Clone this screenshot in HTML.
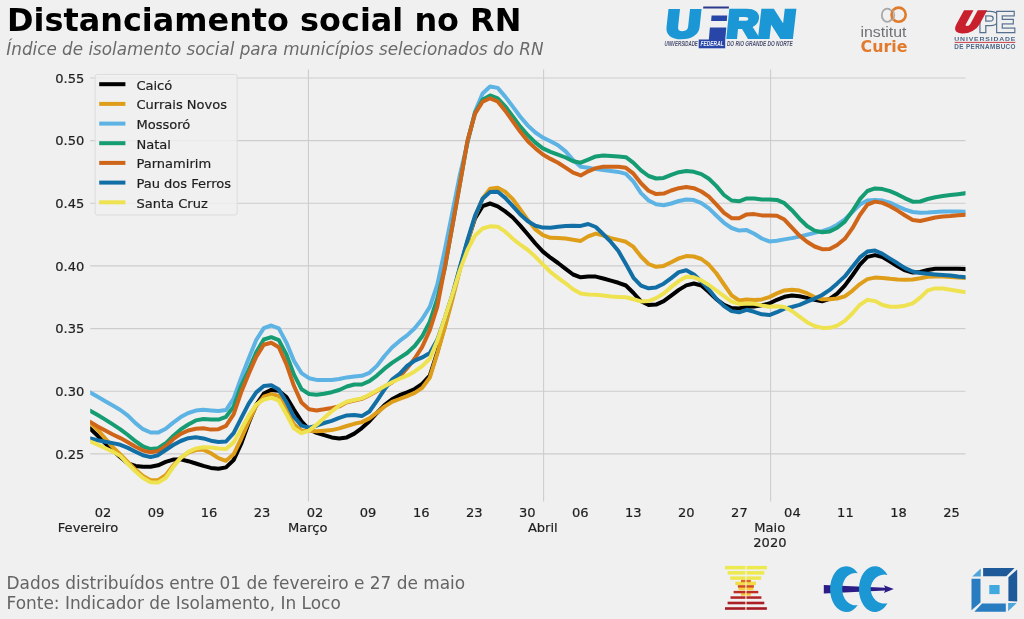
<!DOCTYPE html>
<html lang="pt-BR"><head><meta charset="utf-8"><title>Distanciamento social no RN</title>
<style>
html,body{margin:0;padding:0;background:#f0f0f0;}
body{width:1024px;height:619px;overflow:hidden;}
svg{display:block;font-family:"DejaVu Sans","Liberation Sans",sans-serif;}
.tick{font-size:13.05px;fill:#1e1e1e;stroke:#1e1e1e;stroke-width:0.2px;}
.leg{font-size:13.05px;fill:#1e1e1e;stroke:#1e1e1e;stroke-width:0.2px;}
</style></head><body>
<svg width="1024" height="619" viewBox="0 0 1024 619">
<rect width="1024" height="619" fill="#f0f0f0"/>
<text x="7.1" y="31.3" font-size="31.9" font-weight="bold" fill="#000">Distanciamento social no RN</text>
<text x="6.3" y="55" font-size="16.8" font-style="italic" fill="#6a6a6a">Índice de isolamento social para municípios selecionados do RN</text>
<g stroke="#cdcdcd" stroke-width="1.1" fill="none">
<path d="M90.2 77.95 H965.5"/><path d="M90.2 140.6 H965.5"/><path d="M90.2 203.3 H965.5"/><path d="M90.2 265.9 H965.5"/><path d="M90.2 328.6 H965.5"/><path d="M90.2 391.25 H965.5"/><path d="M90.2 453.9 H965.5"/><path d="M308.45 69.5 V501.5"/><path d="M543.6 69.5 V501.5"/><path d="M770.6 69.5 V501.5"/>
</g>
<g class="tick" text-anchor="end"><text x="84.3" y="82.7">0.55</text><text x="84.3" y="145.3">0.50</text><text x="84.3" y="208.0">0.45</text><text x="84.3" y="270.6">0.40</text><text x="84.3" y="333.3">0.35</text><text x="84.3" y="395.9">0.30</text><text x="84.3" y="458.6">0.25</text></g>
<g class="tick" text-anchor="middle"><text x="103.0" y="517.3">02</text><text x="156.0" y="517.3">09</text><text x="209.1" y="517.3">16</text><text x="262.1" y="517.3">23</text><text x="315.1" y="517.3">02</text><text x="368.1" y="517.3">09</text><text x="421.2" y="517.3">16</text><text x="474.2" y="517.3">23</text><text x="527.2" y="517.3">30</text><text x="580.3" y="517.3">06</text><text x="633.3" y="517.3">13</text><text x="686.3" y="517.3">20</text><text x="739.4" y="517.3">27</text><text x="792.4" y="517.3">04</text><text x="845.4" y="517.3">11</text><text x="898.5" y="517.3">18</text><text x="951.5" y="517.3">25</text><text x="88" y="532.4">Fevereiro</text><text x="307.65" y="532.4">Março</text><text x="542.8000000000001" y="532.4">Abril</text><text x="769.8000000000001" y="532.4">Maio</text><text x="769.9" y="547.4">2020</text></g>
<clipPath id="ax"><rect x="90.2" y="69.5" width="875.3" height="432"/></clipPath>
<g fill="none" stroke-width="4" stroke-linejoin="round" stroke-linecap="square" clip-path="url(#ax)">
<path stroke="#000000" d="M90.2 428.8 L97.7 435.8 L105.3 443.3 L112.8 450.6 L120.4 457.3 L127.9 463.5 L135.5 466.0 L143.0 466.8 L150.6 466.8 L158.1 465.3 L165.7 461.9 L173.2 459.6 L180.7 459.4 L188.3 461.2 L195.8 463.5 L203.4 465.9 L210.9 467.9 L218.5 468.8 L226.0 467.4 L233.6 460.1 L241.1 444.0 L248.7 423.0 L256.2 404.8 L263.8 393.6 L271.3 389.9 L278.8 390.7 L286.4 397.0 L293.9 409.6 L301.5 421.4 L309.0 429.3 L316.6 432.9 L324.1 435.1 L331.7 437.4 L339.2 438.5 L346.8 437.4 L354.3 433.6 L361.8 428.1 L369.4 421.2 L376.9 413.0 L384.5 405.1 L392.0 399.3 L399.6 395.2 L407.1 392.3 L414.7 389.0 L422.2 383.9 L429.8 375.5 L437.3 352.3 L444.8 325.7 L452.4 296.6 L459.9 268.4 L467.5 241.6 L475.0 218.4 L482.6 206.1 L490.1 203.5 L497.7 206.3 L505.2 211.4 L512.8 217.5 L520.3 225.6 L527.9 234.5 L535.4 243.5 L542.9 251.6 L550.5 257.7 L558.0 263.0 L565.6 268.8 L573.1 274.5 L580.7 277.3 L588.2 276.4 L595.8 276.6 L603.3 278.5 L610.9 280.7 L618.4 282.8 L625.9 285.5 L633.5 293.0 L641.0 301.3 L648.6 304.9 L656.1 304.6 L663.7 301.2 L671.2 295.7 L678.8 289.9 L686.3 285.4 L693.9 283.5 L701.4 285.5 L708.9 292.1 L716.5 299.4 L724.0 304.8 L731.6 308.0 L739.1 308.4 L746.7 306.8 L754.2 306.5 L761.8 305.3 L769.3 303.5 L776.9 299.8 L784.4 296.8 L791.9 295.5 L799.5 296.2 L807.0 297.9 L814.6 299.9 L822.1 301.3 L829.7 298.9 L837.2 293.6 L844.8 285.6 L852.3 275.5 L859.9 264.7 L867.4 256.9 L875.0 255.1 L882.5 257.0 L890.0 261.5 L897.6 266.3 L905.1 270.4 L912.7 272.5 L920.2 271.9 L927.8 270.0 L935.3 268.8 L942.9 268.7 L950.4 268.7 L958.0 268.7 L965.5 269.1"/>
<path stroke="#de9e1a" d="M90.2 422.9 L97.7 429.8 L105.3 438.6 L112.8 447.1 L120.4 454.5 L127.9 462.1 L135.5 469.6 L143.0 476.0 L150.6 480.3 L158.1 480.2 L165.7 475.1 L173.2 465.4 L180.7 457.8 L188.3 452.6 L195.8 450.0 L203.4 449.6 L210.9 453.3 L218.5 458.1 L226.0 460.8 L233.6 454.3 L241.1 439.0 L248.7 421.4 L256.2 405.9 L263.8 396.7 L271.3 394.1 L278.8 396.0 L286.4 410.1 L293.9 424.2 L301.5 430.7 L309.0 430.8 L316.6 431.3 L324.1 430.7 L331.7 430.1 L339.2 428.4 L346.8 426.0 L354.3 423.8 L361.8 422.1 L369.4 418.4 L376.9 412.7 L384.5 406.6 L392.0 401.9 L399.6 399.0 L407.1 396.1 L414.7 392.9 L422.2 387.9 L429.8 377.6 L437.3 353.5 L444.8 327.4 L452.4 299.5 L459.9 269.8 L467.5 242.8 L475.0 216.8 L482.6 198.4 L490.1 188.7 L497.7 187.7 L505.2 191.8 L512.8 199.1 L520.3 209.5 L527.9 220.1 L535.4 229.4 L542.9 235.2 L550.5 237.8 L558.0 238.1 L565.6 238.6 L573.1 239.7 L580.7 240.9 L588.2 236.4 L595.8 233.6 L603.3 235.5 L610.9 238.1 L618.4 239.9 L625.9 241.8 L633.5 246.9 L641.0 256.5 L648.6 264.0 L656.1 266.8 L663.7 265.9 L671.2 262.3 L678.8 258.4 L686.3 256.1 L693.9 256.5 L701.4 259.0 L708.9 264.7 L716.5 273.5 L724.0 284.5 L731.6 295.3 L739.1 300.5 L746.7 299.6 L754.2 300.0 L761.8 299.4 L769.3 297.1 L776.9 293.4 L784.4 290.4 L791.9 289.7 L799.5 290.6 L807.0 293.2 L814.6 297.1 L822.1 299.2 L829.7 299.2 L837.2 298.5 L844.8 296.4 L852.3 290.8 L859.9 284.1 L867.4 279.1 L875.0 277.6 L882.5 277.9 L890.0 278.8 L897.6 279.5 L905.1 279.8 L912.7 279.5 L920.2 278.3 L927.8 276.8 L935.3 276.5 L942.9 276.6 L950.4 276.9 L958.0 277.5 L965.5 277.9"/>
<path stroke="#5db3e3" d="M90.2 392.6 L97.7 396.8 L105.3 401.2 L112.8 405.5 L120.4 410.0 L127.9 415.6 L135.5 423.1 L143.0 429.2 L150.6 432.5 L158.1 432.6 L165.7 428.8 L173.2 422.6 L180.7 417.1 L188.3 413.0 L195.8 410.6 L203.4 409.8 L210.9 410.4 L218.5 411.1 L226.0 410.0 L233.6 398.7 L241.1 377.9 L248.7 358.6 L256.2 340.0 L263.8 328.2 L271.3 325.5 L278.8 328.4 L286.4 342.6 L293.9 360.7 L301.5 373.1 L309.0 378.2 L316.6 379.9 L324.1 380.1 L331.7 380.0 L339.2 379.0 L346.8 377.4 L354.3 376.6 L361.8 375.8 L369.4 372.8 L376.9 365.9 L384.5 356.0 L392.0 347.5 L399.6 340.9 L407.1 335.4 L414.7 328.2 L422.2 319.0 L429.8 306.9 L437.3 284.6 L444.8 250.0 L452.4 212.1 L459.9 174.6 L467.5 142.9 L475.0 111.8 L482.6 93.5 L490.1 86.5 L497.7 87.9 L505.2 96.6 L512.8 106.6 L520.3 116.8 L527.9 125.6 L535.4 132.5 L542.9 137.6 L550.5 141.2 L558.0 145.2 L565.6 151.4 L573.1 160.1 L580.7 166.8 L588.2 167.7 L595.8 169.1 L603.3 170.1 L610.9 170.9 L618.4 171.9 L625.9 173.9 L633.5 181.7 L641.0 193.1 L648.6 200.5 L656.1 204.3 L663.7 205.3 L671.2 203.5 L678.8 201.0 L686.3 199.5 L693.9 200.1 L701.4 203.2 L708.9 208.4 L716.5 215.7 L724.0 222.8 L731.6 228.0 L739.1 230.6 L746.7 230.1 L754.2 233.7 L761.8 238.5 L769.3 241.4 L776.9 240.7 L784.4 239.4 L791.9 238.1 L799.5 236.6 L807.0 234.8 L814.6 232.9 L822.1 231.1 L829.7 228.7 L837.2 224.7 L844.8 219.5 L852.3 212.0 L859.9 204.6 L867.4 200.5 L875.0 200.1 L882.5 200.6 L890.0 202.6 L897.6 206.2 L905.1 209.6 L912.7 212.0 L920.2 212.7 L927.8 212.6 L935.3 212.0 L942.9 211.6 L950.4 211.4 L958.0 211.4 L965.5 211.8"/>
<path stroke="#159c73" d="M90.2 410.8 L97.7 415.1 L105.3 419.6 L112.8 424.4 L120.4 429.4 L127.9 435.0 L135.5 441.2 L143.0 446.5 L150.6 449.1 L158.1 448.2 L165.7 443.3 L173.2 435.9 L180.7 429.4 L188.3 424.5 L195.8 420.4 L203.4 419.0 L210.9 419.5 L218.5 419.6 L226.0 416.8 L233.6 406.6 L241.1 386.0 L248.7 369.8 L256.2 352.3 L263.8 339.5 L271.3 337.2 L278.8 340.1 L286.4 354.5 L293.9 374.4 L301.5 389.1 L309.0 394.0 L316.6 394.8 L324.1 393.7 L331.7 392.2 L339.2 390.0 L346.8 386.5 L354.3 384.5 L361.8 384.5 L369.4 381.2 L376.9 375.6 L384.5 368.7 L392.0 362.9 L399.6 357.9 L407.1 353.0 L414.7 346.0 L422.2 336.3 L429.8 321.6 L437.3 298.7 L444.8 268.3 L452.4 225.8 L459.9 184.0 L467.5 141.0 L475.0 113.1 L482.6 99.7 L490.1 95.4 L497.7 98.4 L505.2 106.3 L512.8 116.4 L520.3 126.6 L527.9 135.3 L535.4 142.6 L542.9 148.4 L550.5 151.8 L558.0 154.6 L565.6 157.5 L573.1 161.2 L580.7 162.7 L588.2 159.6 L595.8 156.4 L603.3 155.4 L610.9 156.0 L618.4 156.6 L625.9 157.2 L633.5 162.9 L641.0 170.4 L648.6 176.0 L656.1 178.5 L663.7 177.9 L671.2 174.8 L678.8 172.2 L686.3 171.1 L693.9 171.8 L701.4 174.1 L708.9 178.8 L716.5 186.1 L724.0 195.0 L731.6 200.5 L739.1 201.3 L746.7 198.4 L754.2 198.4 L761.8 199.4 L769.3 199.4 L776.9 199.9 L784.4 203.2 L791.9 210.2 L799.5 218.7 L807.0 226.0 L814.6 230.6 L822.1 232.2 L829.7 231.4 L837.2 227.8 L844.8 221.6 L852.3 211.2 L859.9 199.2 L867.4 191.0 L875.0 188.4 L882.5 189.1 L890.0 191.1 L897.6 194.4 L905.1 198.3 L912.7 201.7 L920.2 201.5 L927.8 199.0 L935.3 197.2 L942.9 196.1 L950.4 195.1 L958.0 194.2 L965.5 193.2"/>
<path stroke="#cf6519" d="M90.2 421.9 L97.7 426.4 L105.3 430.6 L112.8 434.5 L120.4 438.1 L127.9 442.2 L135.5 446.7 L143.0 450.6 L150.6 452.2 L158.1 451.1 L165.7 446.2 L173.2 439.2 L180.7 433.9 L188.3 430.5 L195.8 428.7 L203.4 428.3 L210.9 429.6 L218.5 429.2 L226.0 425.9 L233.6 414.3 L241.1 392.6 L248.7 373.9 L256.2 356.9 L263.8 344.7 L271.3 342.8 L278.8 347.3 L286.4 364.1 L293.9 385.8 L301.5 402.6 L309.0 409.3 L316.6 410.4 L324.1 409.3 L331.7 408.0 L339.2 406.4 L346.8 402.3 L354.3 400.5 L361.8 398.9 L369.4 395.3 L376.9 391.1 L384.5 386.8 L392.0 382.4 L399.6 376.8 L407.1 368.3 L414.7 358.5 L422.2 346.9 L429.8 330.2 L437.3 306.7 L444.8 267.4 L452.4 225.8 L459.9 184.0 L467.5 140.9 L475.0 113.8 L482.6 101.8 L490.1 98.3 L497.7 101.5 L505.2 110.7 L512.8 121.3 L520.3 131.8 L527.9 141.3 L535.4 148.4 L542.9 154.5 L550.5 158.9 L558.0 162.7 L565.6 167.6 L573.1 172.7 L580.7 175.4 L588.2 171.3 L595.8 168.1 L603.3 166.8 L610.9 166.8 L618.4 166.8 L625.9 167.8 L633.5 173.7 L641.0 183.3 L648.6 190.7 L656.1 194.1 L663.7 193.6 L671.2 190.5 L678.8 188.2 L686.3 187.1 L693.9 188.2 L701.4 191.5 L708.9 196.7 L716.5 204.6 L724.0 212.8 L731.6 218.2 L739.1 218.3 L746.7 214.4 L754.2 214.1 L761.8 215.4 L769.3 215.4 L776.9 215.7 L784.4 219.6 L791.9 227.7 L799.5 235.6 L807.0 241.7 L814.6 246.5 L822.1 249.2 L829.7 249.1 L837.2 245.0 L844.8 238.8 L852.3 228.4 L859.9 215.0 L867.4 204.6 L875.0 201.6 L882.5 202.9 L890.0 206.2 L897.6 210.6 L905.1 215.5 L912.7 220.0 L920.2 221.0 L927.8 219.2 L935.3 217.5 L942.9 216.6 L950.4 216.1 L958.0 215.3 L965.5 214.7"/>
<path stroke="#126fa6" d="M90.2 438.5 L97.7 440.3 L105.3 441.8 L112.8 443.1 L120.4 444.8 L127.9 447.9 L135.5 451.7 L143.0 455.3 L150.6 457.1 L158.1 455.2 L165.7 450.0 L173.2 445.0 L180.7 441.0 L188.3 438.2 L195.8 437.2 L203.4 438.4 L210.9 440.7 L218.5 441.9 L226.0 441.5 L233.6 433.1 L241.1 418.3 L248.7 403.7 L256.2 392.4 L263.8 386.0 L271.3 385.2 L278.8 389.6 L286.4 402.0 L293.9 416.8 L301.5 425.6 L309.0 427.6 L316.6 425.7 L324.1 423.0 L331.7 420.8 L339.2 417.9 L346.8 415.4 L354.3 415.1 L361.8 416.1 L369.4 411.5 L376.9 400.9 L384.5 389.4 L392.0 379.7 L399.6 373.9 L407.1 366.0 L414.7 360.6 L422.2 357.4 L429.8 353.1 L437.3 339.8 L444.8 318.4 L452.4 294.6 L459.9 267.1 L467.5 240.1 L475.0 215.9 L482.6 198.8 L490.1 192.1 L497.7 191.8 L505.2 197.9 L512.8 206.1 L520.3 214.5 L527.9 221.3 L535.4 225.7 L542.9 227.6 L550.5 227.8 L558.0 226.8 L565.6 226.0 L573.1 225.8 L580.7 225.9 L588.2 224.0 L595.8 227.0 L603.3 234.3 L610.9 241.9 L618.4 251.1 L625.9 264.1 L633.5 277.8 L641.0 285.6 L648.6 288.3 L656.1 287.4 L663.7 283.7 L671.2 278.1 L678.8 272.1 L686.3 270.2 L693.9 274.4 L701.4 281.5 L708.9 289.6 L716.5 298.9 L724.0 306.1 L731.6 311.1 L739.1 312.3 L746.7 309.8 L754.2 311.8 L761.8 314.3 L769.3 315.1 L776.9 312.2 L784.4 308.6 L791.9 307.0 L799.5 304.8 L807.0 301.6 L814.6 298.6 L822.1 295.0 L829.7 289.9 L837.2 283.4 L844.8 276.4 L852.3 266.9 L859.9 257.4 L867.4 251.6 L875.0 250.5 L882.5 253.9 L890.0 258.6 L897.6 263.3 L905.1 268.2 L912.7 271.5 L920.2 273.1 L927.8 273.8 L935.3 274.4 L942.9 274.9 L950.4 275.6 L958.0 276.6 L965.5 277.3"/>
<path stroke="#efe251" d="M90.2 441.5 L97.7 444.7 L105.3 448.2 L112.8 451.6 L120.4 456.1 L127.9 463.9 L135.5 471.5 L143.0 477.9 L150.6 482.3 L158.1 482.5 L165.7 478.0 L173.2 467.1 L180.7 458.0 L188.3 451.9 L195.8 448.5 L203.4 447.3 L210.9 447.4 L218.5 448.6 L226.0 449.1 L233.6 442.4 L241.1 429.4 L248.7 415.7 L256.2 404.7 L263.8 399.6 L271.3 397.7 L278.8 400.7 L286.4 414.2 L293.9 428.3 L301.5 433.2 L309.0 430.6 L316.6 424.7 L324.1 418.0 L331.7 411.3 L339.2 405.7 L346.8 401.8 L354.3 400.0 L361.8 398.4 L369.4 394.8 L376.9 390.6 L384.5 386.2 L392.0 382.2 L399.6 378.7 L407.1 375.7 L414.7 371.4 L422.2 366.1 L429.8 358.7 L437.3 340.9 L444.8 318.1 L452.4 294.6 L459.9 270.1 L467.5 250.0 L475.0 235.6 L482.6 228.5 L490.1 226.3 L497.7 226.7 L505.2 231.7 L512.8 238.7 L520.3 244.7 L527.9 250.0 L535.4 256.8 L542.9 264.3 L550.5 272.0 L558.0 277.8 L565.6 283.3 L573.1 289.3 L580.7 293.6 L588.2 294.4 L595.8 294.8 L603.3 295.5 L610.9 296.5 L618.4 296.9 L625.9 297.2 L633.5 299.3 L641.0 301.4 L648.6 301.0 L656.1 298.1 L663.7 293.5 L671.2 286.9 L678.8 281.1 L686.3 276.7 L693.9 277.3 L701.4 280.4 L708.9 285.0 L716.5 290.5 L724.0 296.2 L731.6 301.6 L739.1 303.9 L746.7 303.4 L754.2 303.8 L761.8 305.4 L769.3 306.8 L776.9 306.3 L784.4 307.0 L791.9 311.0 L799.5 316.6 L807.0 322.2 L814.6 326.0 L822.1 327.9 L829.7 327.8 L837.2 325.6 L844.8 320.9 L852.3 313.5 L859.9 304.8 L867.4 299.8 L875.0 301.1 L882.5 305.0 L890.0 306.8 L897.6 306.8 L905.1 305.7 L912.7 303.3 L920.2 297.6 L927.8 290.4 L935.3 288.4 L942.9 288.6 L950.4 289.7 L958.0 291.0 L965.5 292.2"/>
</g>
<rect x="95.2" y="74.4" width="142" height="140.6" rx="2" fill="#f0f0f0" fill-opacity="0.8" stroke="#dcdcdc" stroke-width="1"/>
<g stroke-width="4" fill="none"><path stroke="#000000" d="M99.2 84.2 H125.4"/><path stroke="#de9e1a" d="M99.2 103.9 H125.4"/><path stroke="#5db3e3" d="M99.2 123.6 H125.4"/><path stroke="#159c73" d="M99.2 143.2 H125.4"/><path stroke="#cf6519" d="M99.2 162.9 H125.4"/><path stroke="#126fa6" d="M99.2 182.6 H125.4"/><path stroke="#efe251" d="M99.2 202.3 H125.4"/></g>
<g class="leg"><text x="136.4" y="89.5">Caicó</text><text x="136.4" y="109.2">Currais Novos</text><text x="136.4" y="128.9">Mossoró</text><text x="136.4" y="148.5">Natal</text><text x="136.4" y="168.2">Parnamirim</text><text x="136.4" y="187.9">Pau dos Ferros</text><text x="136.4" y="207.6">Santa Cruz</text></g>
<g font-size="16.95" fill="#646464"><text x="6.5" y="588.6">Dados distribuídos entre 01 de fevereiro e 27 de maio</text><text x="6.5" y="608.5">Fonte: Indicador de Isolamento, In Loco</text></g>
<!-- UFRN logo -->
<g>
<path fill="#2b3a8c" d="M703.3 6.5 H728.9 V8.5 H703.1 Z"/>
<path fill="#2846a8" d="M711.6 15.5 H727.2 L726.8 21 H711.1 Z"/>
<path fill="#2846a8" d="M709.9 27.6 H726.3 L725.2 40 H708.8 Z"/>
<rect fill="#2846a8" x="698.7" y="39.5" width="26.5" height="8.8"/>
<text transform="translate(664.89 36.92) scale(0.4716 0.3800) skewX(-5)" style="font:bold 100px 'Liberation Sans',sans-serif;stroke:#1c97d5;stroke-width:10px" fill="#1c97d5">U</text>
<text transform="translate(725.86 37.09) scale(0.4385 0.3823) skewX(-5)" style="font:bold 100px 'Liberation Sans',sans-serif;stroke:#1c97d5;stroke-width:10px" fill="#1c97d5">R</text>
<text transform="translate(757.29 37.09) scale(0.5092 0.3823) skewX(-5)" style="font:bold 100px 'Liberation Sans',sans-serif;stroke:#1c97d5;stroke-width:10px" fill="#1c97d5">N</text>
<text transform="translate(664.54 46.33) scale(0.0441 0.0704)" style="font:italic bold 100px 'Liberation Sans',sans-serif" fill="#4b5070">UNIVERSIDADE</text>
<text transform="translate(700.50 46.40) scale(0.0491 0.0725)" style="font:italic bold 100px 'Liberation Sans',sans-serif" fill="#e8ecf6">FEDERAL</text>
<text transform="translate(726.90 46.33) scale(0.0481 0.0704)" style="font:italic bold 100px 'Liberation Sans',sans-serif" fill="#4b5070">DO RIO GRANDE DO NORTE</text>
</g>
<!-- Institut Curie -->
<g>
<ellipse cx="887.3" cy="15.2" rx="5.5" ry="6.6" fill="none" stroke="#a8a8a8" stroke-width="1.8"/>
<circle cx="898.6" cy="14.7" r="7.1" fill="none" stroke="#e07b2c" stroke-width="2.6"/>
<path d="M892.6 10.2 A5.5 6.6 0 0 1 892.6 20.2" fill="none" stroke="#b0b0b0" stroke-width="1.4"/>
<text transform="translate(860.49 37.16) scale(0.1591 0.1446)" style="font:normal 100px 'Liberation Sans',sans-serif" fill="#6f7276">institut</text>
<text transform="translate(860.61 52.35) scale(0.1580 0.1532)" style="font:bold 100px 'DejaVu Sans','Liberation Sans',sans-serif" fill="#e27a2e">Curie</text>
</g>
<!-- UPE -->
<g>
<text transform="translate(978.56 32.39) scale(0.3141 0.3026)" style="font:bold 100px 'Liberation Sans',sans-serif;stroke:#56708f;stroke-width:8px;paint-order:stroke" fill="#f0f0f0">P</text>
<text transform="translate(995.30 32.39) scale(0.3016 0.3026)" style="font:bold 100px 'Liberation Sans',sans-serif;stroke:#56708f;stroke-width:8px;paint-order:stroke" fill="#f0f0f0">E</text>
<text transform="translate(953.40 30.98) scale(0.3000 0.2686) skewX(-26)" style="font:bold 100px 'Liberation Sans',sans-serif;stroke:#c8202c;stroke-width:17px;stroke-linejoin:miter" fill="#c8202c">U</text>
<text transform="translate(954.29 40.84) scale(0.0690 0.0606)" style="font:bold 100px 'Liberation Sans',sans-serif;letter-spacing:12px" fill="#4d6888">UNIVERSIDADE</text>
<text transform="translate(954.26 49.43) scale(0.0635 0.0662)" style="font:bold 100px 'Liberation Sans',sans-serif;letter-spacing:6px" fill="#4d6888">DE PERNAMBUCO</text>
<rect x="954.7" y="41.9" width="60.6" height="1" fill="#c6404a"/>
</g>
<!-- bottom logo 1: striped pyramid -->
<g>
<rect x="725.0" y="565.9" width="41.9" height="3.5" fill="#ecea4e"/>
<rect x="727.6" y="571.1" width="36.7" height="3.5" fill="#ecea4e"/>
<rect x="730.2" y="576.4" width="31.0" height="3.4" fill="#eee84c"/>
<rect x="735.3" y="581.7" width="20.7" height="3.4" fill="#f3dc45"/>
<rect x="738.4" y="587.0" width="15.0" height="3.3" fill="#f7cf3a"/>
<rect x="741.0" y="592.3" width="9.8" height="3.4" fill="#f9c433"/>
<rect x="741.0" y="579.9" width="9.8" height="2.3" fill="#dd6a1c"/>
<rect x="737.9" y="585.2" width="16.0" height="2.4" fill="#cf4a1e"/>
<rect x="733.6" y="590.9" width="24.7" height="2.4" fill="#bd2f22"/>
<rect x="730.5" y="596.3" width="30.9" height="2.5" fill="#b32426"/>
<rect x="727.6" y="601.7" width="36.7" height="2.6" fill="#ab1f25"/>
<rect x="725.0" y="607.2" width="41.9" height="2.6" fill="#a51c24"/>
<rect x="745.4" y="565.5" width="1.1" height="44.6" fill="#f6f4e6"/>
</g>
<!-- bottom logo 2: crescents with arrow -->
<g>
<path fill="#2c1c86" d="M823.8 585.0 L885.2 587.7 L883.8 585.2 L893.8 589.0 L883.8 593.0 L885.2 590.5 L823.8 593.6 Z"/>
<path fill="#1b97d4" d="M857.78 573.19 A16.1 22.9 0 1 0 857.78 605.01 A13.1 16.2 0 1 1 857.78 573.19 Z"/>
<path fill="#1b97d4" d="M887.48 574.94 A16.0 22.9 0 1 0 887.48 603.26 A13.8 14.5 0 1 1 887.48 574.94 Z"/>
</g>
<!-- bottom logo 3: square -->
<g>
<path fill="#1e5a9a" d="M983.1 567.9 L1014.6 567.9 L1006.3 576.2 L983.1 576.2 Z"/>
<path fill="#1e5a9a" d="M1017.2 569.5 L1017.2 601.5 L1008.4 601.0 L1008.4 577.2 Z"/>
<path fill="#2a7cc0" d="M971.5 578.8 L980.5 578.8 L980.5 602.5 L971.5 610.3 Z"/>
<path fill="#2a7cc0" d="M982.0 603.6 L1005.8 603.6 L1005.8 611.8 L974.3 611.8 Z"/>
<path fill="#4da6da" d="M980.8 568.4 L980.8 576.5 L972.2 576.5 Z"/>
<path fill="#4da6da" d="M1008.1 603.1 L1016.7 603.1 L1008.1 611.3 Z"/>
<rect fill="#3fa9e0" x="989.3" y="585.0" width="10.3" height="9.1"/>
</g>
</svg>
</body></html>
